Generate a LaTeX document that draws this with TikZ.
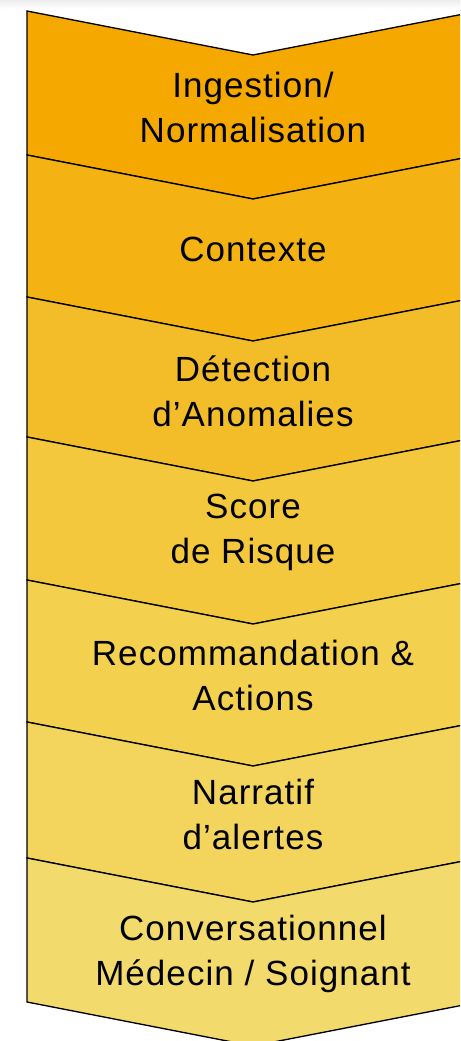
\documentclass[tikz,border=0pt]{standalone}
\usepackage{fontspec}
\setmainfont{Liberation Sans}[LetterSpace=3]
\usepackage{tikz}

\definecolor{stepA}{HTML}{F4A800}
\definecolor{stepB}{HTML}{F4B313}
\definecolor{stepC}{HTML}{F3BD2A}
\definecolor{stepD}{HTML}{F3C83C}
\definecolor{stepE}{HTML}{F3D04E}
\definecolor{stepF}{HTML}{F3D55D}
\definecolor{stepG}{HTML}{F3DA6C}

\begin{document}
\begin{tikzpicture}[x=0.75pt,y=-0.75pt,
  chev/.style={draw=black,line width=1pt,line join=miter},
  lbl/.style={align=center,font=\fontsize{26.25}{33.75}\selectfont}]

\useasboundingbox (0,0) rectangle (460,1041);
\clip (0,0) rectangle (460,1041);
\shade[top color=black!7,bottom color=white] (0,0) rectangle (460,9);

% chevrons, top to bottom
\filldraw[chev,fill=stepA] (27,11)--(253,55)--(479,11)--(479,155)--(253,199)--(27,155)--cycle;
\filldraw[chev,fill=stepB] (27,155)--(253,199)--(479,155)--(479,297)--(253,341)--(27,297)--cycle;
\filldraw[chev,fill=stepC] (27,297)--(253,341)--(479,297)--(479,437)--(253,481)--(27,437)--cycle;
\filldraw[chev,fill=stepD] (27,437)--(253,481)--(479,437)--(479,580)--(253,624)--(27,580)--cycle;
\filldraw[chev,fill=stepE] (27,580)--(253,624)--(479,580)--(479,722)--(253,766)--(27,722)--cycle;
\filldraw[chev,fill=stepF] (27,722)--(253,766)--(479,722)--(479,858)--(253,902)--(27,858)--cycle;
\filldraw[chev,fill=stepG] (27,858)--(253,902)--(479,858)--(479,1002)--(253,1046)--(27,1002)--cycle;

\node[lbl] (ingest) at (253,107) {Ingestion/\\Normalisation};
\node[lbl] (contexte) at (253,249) {Contexte};
\node[lbl] (detect) at (253,391) {Détection\\d’Anomalies};
\node[lbl] (score) at (253,532) {Score\\de Risque};
\node[lbl] (reco) at (253,675) {Recommandation \&\\Actions};
\node[lbl] (narratif) at (253,814) {Narratif\\d’alertes};
\node[lbl] (conv) at (253,954) {Conversationnel\\Médecin / Soignant};

\end{tikzpicture}
\end{document}
